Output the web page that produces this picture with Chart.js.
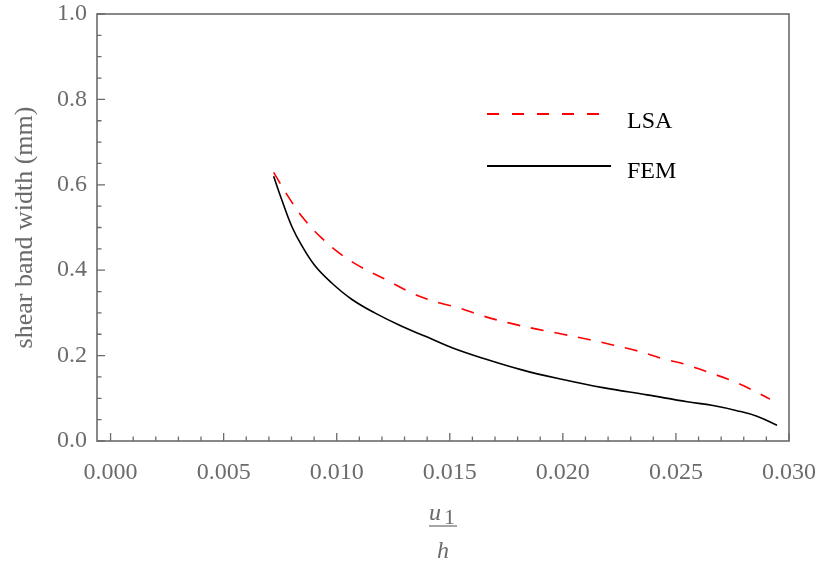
<!DOCTYPE html>
<html>
<head>
<meta charset="utf-8">
<script src="https://cdn.jsdelivr.net/npm/chart.js@4"></script>
<style>
  html, body { margin: 0; padding: 0; background: #fff; }
  #box { width: 821px; height: 565px; }
</style>
</head>
<body>
<div id="box"><canvas id="grafico"></canvas></div>
<script>
// valores
const xLSA = [0.00721, 0.00792, 0.00858, 0.00934, 0.01022, 0.01115, 0.01221, 0.01323, 0.01412, 0.01456,
  0.01544, 0.01646, 0.01765, 0.01885, 0.0200, 0.0212, 0.0222, 0.0233, 0.0244, 0.0254,
  0.02637, 0.0274, 0.0284, 0.02916];
const yLSA = [0.629, 0.567, 0.518, 0.475, 0.436, 0.405, 0.377, 0.349, 0.330, 0.323,
  0.311, 0.293, 0.276, 0.262, 0.250, 0.237, 0.225, 0.211, 0.193, 0.180,
  0.162, 0.143, 0.119, 0.098];

const xFEM = [0.00721, 0.00757, 0.00801, 0.00845, 0.00903, 0.00978, 0.01066, 0.01168, 0.0129, 0.01398,
  0.01513, 0.01646, 0.01823, 0.0200, 0.02177, 0.02372, 0.0255, 0.02664, 0.0277, 0.02858, 0.02947];
const yFEM = [0.620, 0.565, 0.503, 0.458, 0.411, 0.370, 0.332, 0.300, 0.268, 0.244,
  0.218, 0.194, 0.166, 0.144, 0.125, 0.108, 0.092, 0.083, 0.071, 0.058, 0.037];

const ticksX = [0, 0.005, 0.010, 0.015, 0.020, 0.025, 0.030];
const ticksY = [0, 0.2, 0.4, 0.6, 0.8, 1.0];
const etiquetas = ["LSA", "FEM"];

const gris = "#6b6b6b";
const fuente = "'Liberation Serif', 'Times New Roman', serif";

function puntos(xs, ys) {
  return xs.map((x, i) => ({ x: x, y: ys[i] }));
}

function sinRelleno(s) {
  s.paddingTop = 0;
  s.paddingBottom = 0;
  s.paddingLeft = 0;
  s.paddingRight = 0;
}

// marco, ticks menores y leyenda
const marcoPlugin = {
  id: "marco",
  afterDraw(chart) {
    const ctx = chart.ctx;
    const area = chart.chartArea;
    const sx = chart.scales.x;
    const sy = chart.scales.y;
    ctx.save();
    ctx.strokeStyle = gris;
    ctx.lineWidth = 1.6;
    ctx.strokeRect(area.left, area.top, area.right - area.left, area.bottom - area.top);

    ctx.lineWidth = 1.3;
    ctx.beginPath();
    for (let i = 0; i <= 30; i++) {
      const px = sx.getPixelForValue(i * 0.001);
      const largo = i % 5 === 0 ? 8 : 4.5;
      ctx.moveTo(px, area.bottom);
      ctx.lineTo(px, area.bottom - largo);
    }
    for (let j = 0; j <= 20; j++) {
      const py = sy.getPixelForValue(j * 0.05);
      const largo = j % 4 === 0 ? 8 : 4.5;
      ctx.moveTo(area.left, py);
      ctx.lineTo(area.left + largo, py);
    }
    ctx.stroke();

    // leyenda
    ctx.lineWidth = 1.8;
    ctx.strokeStyle = "#ff0000";
    ctx.setLineDash([12, 13]);
    ctx.beginPath();
    ctx.moveTo(487, 114);
    ctx.lineTo(603, 114);
    ctx.stroke();
    ctx.setLineDash([]);
    ctx.strokeStyle = "#000";
    ctx.beginPath();
    ctx.moveTo(487, 166);
    ctx.lineTo(611, 166);
    ctx.stroke();
    ctx.fillStyle = "#000";
    ctx.font = "24px " + fuente;
    ctx.textBaseline = "middle";
    ctx.textAlign = "left";
    ctx.fillText(etiquetas[0], 627, 122);
    ctx.fillText(etiquetas[1], 627, 172);

    // titulo eje x: u1 / h
    const cx = (area.left + area.right) / 2;
    ctx.fillStyle = gris;
    ctx.textBaseline = "alphabetic";
    ctx.font = "italic 24px " + fuente;
    ctx.fillText("u", cx - 14, 520);
    ctx.font = "22px " + fuente;
    ctx.fillText("1", cx + 1, 524);
    ctx.strokeStyle = gris;
    ctx.lineWidth = 1.2;
    ctx.beginPath();
    ctx.moveTo(cx - 14, 526);
    ctx.lineTo(cx + 14, 526);
    ctx.stroke();
    ctx.font = "italic 24px " + fuente;
    ctx.textAlign = "center";
    ctx.fillText("h", cx, 558);
    ctx.restore();
  }
};

new Chart(document.getElementById("grafico").getContext("2d"), {
  type: "scatter",
  data: {
    datasets: [
      {
        label: etiquetas[0],
        data: puntos(xLSA, yLSA),
        showLine: true,
        borderColor: "#ff0000",
        borderWidth: 1.6,
        borderDash: [13, 11],
        pointRadius: 0,
        tension: 0.4,
        fill: false
      },
      {
        label: etiquetas[1],
        data: puntos(xFEM, yFEM),
        showLine: true,
        borderColor: "#000000",
        borderWidth: 1.6,
        pointRadius: 0,
        tension: 0.4,
        fill: false
      }
    ]
  },
  options: {
    responsive: true,
    maintainAspectRatio: false,
    animation: false,
    layout: { padding: { left: 0, top: 14, right: 32, bottom: 0 } },
    plugins: {
      legend: { display: false },
      tooltip: { enabled: false }
    },
    scales: {
      x: {
        type: "linear",
        min: -0.0006,
        max: 0.030,
        afterBuildTicks: (s) => { s.ticks = ticksX.map((v) => ({ value: v })); },
        afterFit: (s) => { s.height = 124; sinRelleno(s); },
        grid: { display: false, drawTicks: false },
        border: { display: false },
        ticks: {
          padding: 17,
          color: gris,
          font: { family: fuente, size: 24 },
          maxRotation: 0,
          callback: (v) => v.toFixed(3)
        }
      },
      y: {
        type: "linear",
        min: 0,
        max: 1.0,
        afterBuildTicks: (s) => { s.ticks = ticksY.map((v) => ({ value: v })); },
        afterFit: (s) => { s.width = 97; sinRelleno(s); },
        grid: { display: false, drawTicks: false },
        border: { display: false },
        title: {
          display: true,
          text: "shear band width (mm)",
          color: gris,
          font: { family: fuente, size: 26 },
          padding: { top: 10, bottom: 0 }
        },
        ticks: {
          padding: 10,
          color: gris,
          font: { family: fuente, size: 24 },
          callback: (v) => v.toFixed(1)
        }
      }
    }
  },
  plugins: [marcoPlugin]
});
</script>
</body>
</html>
